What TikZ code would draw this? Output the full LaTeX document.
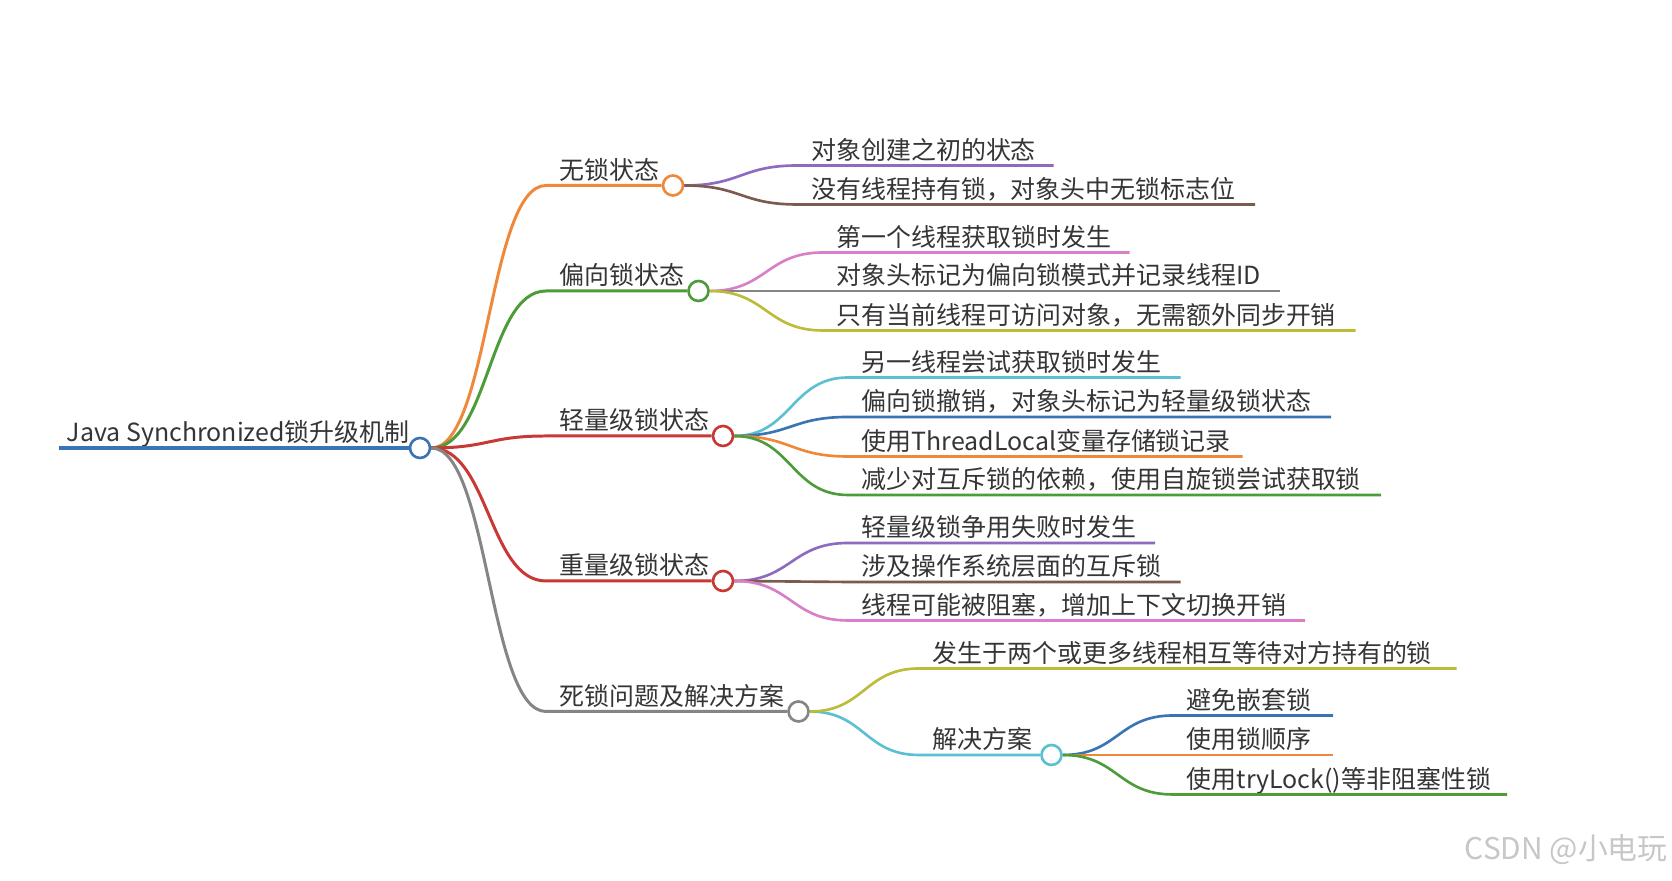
\documentclass[tikz,border=0pt]{standalone}
\usepackage{fontspec}
\usepackage{tikz}
\usetikzlibrary{calc}
\newfontfamily\cjk{Noto Sans CJK SC}
\definecolor{mblue}{HTML}{3A74B4}
\definecolor{morange}{HTML}{F0883A}
\definecolor{mgreen}{HTML}{4C9C3A}
\definecolor{mred}{HTML}{C83834}
\definecolor{mpurple}{HTML}{8F6BC0}
\definecolor{mbrown}{HTML}{7D5A4F}
\definecolor{mpink}{HTML}{D97FC8}
\definecolor{mgray}{HTML}{858585}
\definecolor{molive}{HTML}{BCBB3A}
\definecolor{mcyan}{HTML}{5CBFD2}
\definecolor{mtext}{HTML}{353535}
\tikzset{
  % label sits just above its own underline
  txt/.style   = {anchor=base west, inner sep=0pt, text=mtext,
                  font=\cjk\fontsize{14.2}{17}\selectfont},
  dot/.style   = {circle, draw=#1, fill=white, line width=1.5pt,
                  inner sep=0pt, minimum size=4mm},
  w0/.style    = {line width=2.2pt},
  w1/.style    = {line width=1.7pt},
  w2/.style    = {line width=1.5pt},
  curvy/.style = {to path={let \p1=(\tikztostart), \p2=(\tikztotarget) in
                  .. controls ({0.5*\x1+0.5*\x2},\y1) and ({0.5*\x1+0.5*\x2},\y2) .. (\tikztotarget)}},
  wmark/.style = {anchor=east, inner sep=0pt, text=black!22,
                  font=\cjk\fontsize{17}{20}\selectfont},
}

\begin{document}
\begin{tikzpicture}
\fill[white] (0,0) rectangle (33.44,17.62);
\useasboundingbox (0,0) rectangle (33.44,17.62);

% --- root -------------------------------------------------------------
\node[dot=mblue] (root) at (8.40,8.66) {};
\coordinate (rs) at (1.17,8.66);
\node[txt] (roott) at (1.33,8.78) {Java Synchronized锁升级机制};
\draw[w0,mblue] (rs) -- (root.west);

% --- first level ------------------------------------------------------
\foreach \nm/\ly/\cx/\col/\t in {a/13.91/13.46/morange/无锁状态,
                                 b/11.80/13.97/mgreen/偏向锁状态,
                                 c/8.90/14.46/mred/轻量级锁状态,
                                 d/6.00/14.46/mred/重量级锁状态,
                                 e/3.39/15.97/mgray/死锁问题及解决方案} {
  \node[dot=\col] (\nm) at (\cx,\ly) {};
  \coordinate (\nm s) at (10.92,\ly);
  \node[txt] (\nm t) at (11.19,{\ly+0.12}) {\t};
  \draw[w1,\col] (root.east) to[curvy] (\nm s) -- (\nm.west);
}

% --- sub topic with its own children ---------------------------------
\node[dot=mcyan] (e2) at (21.03,2.52) {};
\coordinate (e2s) at (18.38,2.52);
\node[txt] (e2t) at (18.65,2.64) {解决方案};
\draw[w2,mcyan] (e.east) to[curvy] (e2s) -- (e2.west);

% --- leaves -----------------------------------------------------------
\foreach \up/\nm/\ly/\sx/\xe/\col/\t in {
    a/a1/14.31/15.95/21.07/mpurple/对象创建之初的状态,
    a/a2/13.53/15.95/25.10/mbrown/没有线程持有锁，对象头中无锁标志位,
    b/b1/12.57/16.46/22.59/mpink/第一个线程获取锁时发生,
    b/b2/11.80/16.46/25.59/mgray/对象头标记为偏向锁模式并记录线程ID,
    b/b3/11.01/16.46/27.11/molive/只有当前线程可访问对象，无需额外同步开销,
    c/c1/10.07/16.96/23.61/mcyan/另一线程尝试获取锁时发生,
    c/c2/9.28/16.96/26.62/mblue/偏向锁撤销，对象头标记为轻量级锁状态,
    c/c3/8.49/16.96/24.85/morange/使用ThreadLocal变量存储锁记录,
    c/c4/7.72/16.96/27.62/mgreen/减少对互斥锁的依赖，使用自旋锁尝试获取锁,
    d/d1/6.76/16.96/23.10/mpurple/轻量级锁争用失败时发生,
    d/d2/5.98/16.96/23.61/mbrown/涉及操作系统层面的互斥锁,
    d/d3/5.21/16.96/26.10/mpink/线程可能被阻塞，增加上下文切换开销,
    e/e1/4.25/18.38/29.13/molive/发生于两个或更多线程相互等待对方持有的锁,
    e2/f1/3.31/23.46/26.66/mblue/避免嵌套锁,
    e2/f2/2.52/23.46/26.66/morange/使用锁顺序,
    e2/f3/1.73/23.46/30.14/mgreen/使用tryLock()等非阻塞性锁} {
  \coordinate (\nm s) at (\sx,\ly);
  \coordinate (\nm e) at (\xe,\ly);
  \node[txt] (\nm t) at ({\sx+0.27},{\ly+0.12}) {\t};
  \draw[w2,\col] (\up.east) to[curvy] (\nm s) -- (\nm e);
}

% --- watermark --------------------------------------------------------
\node[wmark] (wm) at (33.36,0.62) {CSDN @小电玩};
\end{tikzpicture}
\end{document}
